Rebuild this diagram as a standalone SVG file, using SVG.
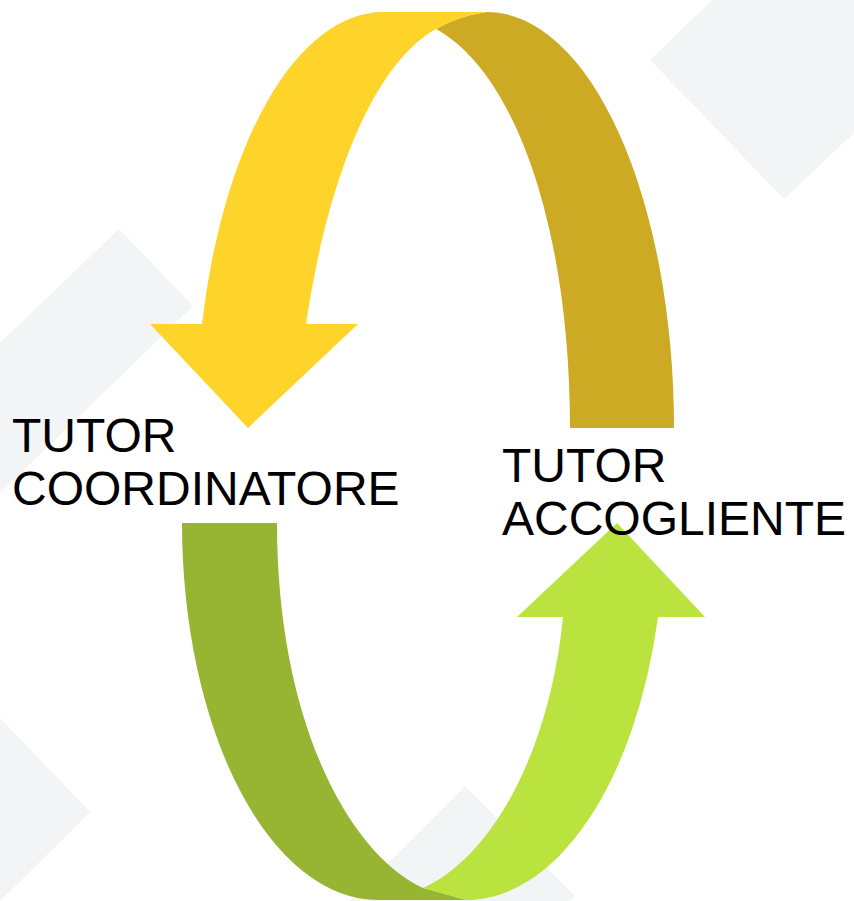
<svg xmlns="http://www.w3.org/2000/svg" width="854" height="901" viewBox="0 0 854 901">
  <style>
    .bg { fill: #f3f4f6; }
    .lbl { font-family: "Liberation Sans", Arial, sans-serif; font-size: 48px; fill: #000000; }
    .yellow { fill: #ffd42a; }
    .gold { fill: #cdaa23; }
    .olive { fill: #97b432; }
    .lime { fill: #bae33f; }
  </style>
  <rect x="0" y="0" width="854" height="901" fill="#ffffff"/>
  <g id="background">
    <polygon class="bg" points="650,60 712,0 854,0 854,133 784,199"/>
    <polygon class="bg" points="0,343 119,229 193,306 0,493"/>
    <polygon class="bg" points="0,718 90,812 0,901"/>
    <polygon class="bg" points="465,786 575,896 570,901 350,901"/>
  </g>
  <g id="connectors">
    <path id="arc-top-right" class="gold" d="M 487,12 A 187 416 0 0 1 674 428 L 570 428 C 570 228 515 72 436 29 Q 458 16 487 12 Z"/>
    <path id="arc-top-left" class="yellow" d="M 202,324 A 187 416 0 0 1 383 12 L 487 12 Q 458 16 436 29 C 375 63 328 176 306 324 L 358 324 L 248 428 L 150 324 Z"/>
    <path id="arc-bottom-left" class="olive" d="M 182,523 L 277,523 C 277,723 350,854.5 423,888 Q 442,893 466,900 L 378,900 A 196 377 0 0 1 182 523 Z"/>
    <path id="arc-bottom-right" class="lime" d="M 423,888 C 495.6,854.5 550.4,746.4 563,617 L 517,617 L 617,523 L 705,617 L 658,617 A 198 377 0 0 1 466 900 Q 442 893 423 888 Z"/>
  </g>
  <g id="node-tutor-coordinatore">
    <text class="lbl" x="12" y="452">TUTOR</text>
    <text class="lbl" x="12" y="505">COORDINATORE</text>
  </g>
  <g id="node-tutor-accogliente">
    <text class="lbl" x="502" y="482">TUTOR</text>
    <text class="lbl" x="502" y="535">ACCOGLIENTE</text>
  </g>
</svg>
